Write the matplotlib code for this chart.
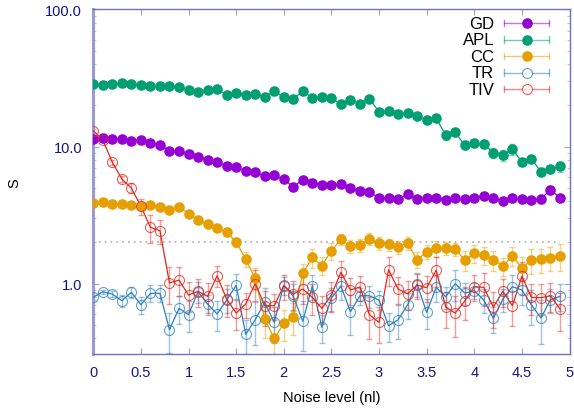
import numpy as np
import matplotlib
matplotlib.use("Agg")
import matplotlib.pyplot as plt
from matplotlib.ticker import FixedLocator, FuncFormatter, LogLocator, NullFormatter

plt.rcParams['font.family'] = ['Liberation Sans', 'DejaVu Sans']

noise = [round(0.1 * i, 1) for i in range(50)]

gd = [11.34, 11.6, 11.34, 11.34, 11.02, 11.15, 10.55, 10.25, 9.32, 9.27,
      8.82, 8.34, 8.01, 7.67, 7.24, 7.09, 6.63, 6.51, 6.06, 6.16,
      5.76, 5.09, 5.69, 5.39, 5.24, 5.24, 5.32, 4.98, 4.71, 4.65,
      4.23, 4.23, 4.14, 4.48, 4.12, 4.19, 4.23, 4.05, 4.23, 4.12,
      4.19, 4.33, 4.23, 4.00, 4.19, 4.16, 4.07, 4.16, 4.84, 4.23]
gd_err = [0.15] * 48 + [0.35, 0.15]

apl = [28.4, 28.1, 28.4, 29.1, 28.6, 28.2, 27.6, 27.6, 27.6, 27.1,
       26.0, 25.1, 25.8, 26.3, 23.8, 24.6, 23.8, 24.2, 22.9, 25.4,
       22.9, 22.3, 25.3, 22.7, 22.9, 22.6, 20.3, 22.0, 20.6, 22.3,
       17.9, 18.2, 17.3, 17.5, 16.7, 15.7, 16.1, 12.1, 12.7, 10.2,
       10.6, 10.4, 9.0, 8.7, 9.6, 7.7, 8.1, 6.55, 6.85, 7.17]
apl_err = [0.3] * 30 + [0.5, 0.5, 0.5, 0.5, 0.5, 0.5, 0.6, 0.9, 0.8, 0.6,
                        0.6, 0.6, 0.7, 0.8, 0.9, 0.4, 0.4, 0.4, 0.4, 0.6]

cc = [3.89, 3.91, 3.82, 3.79, 3.74, 3.70, 3.72, 3.62, 3.42, 3.64,
      3.23, 2.92, 2.73, 2.54, 2.38, 2.01, 1.51, 1.09, 0.551, 0.398,
      0.512, 0.569, 1.19, 1.55, 1.35, 1.74, 2.10, 1.87, 1.91, 2.12,
      1.97, 1.93, 1.85, 1.97, 1.49, 1.70, 1.81, 1.81, 1.79, 1.48,
      1.66, 1.61, 1.49, 1.34, 1.59, 1.30, 1.48, 1.50, 1.54, 1.58]
cc_err = [0.05, 0.05, 0.05, 0.05, 0.05, 0.05, 0.06, 0.08, 0.1, 0.1,
          0.1, 0.12, 0.1, 0.12, 0.15, 0.15, 0.2, 0.2, 0.15, 0.15,
          0.13, 0.15, 0.2, 0.25, 0.2, 0.25, 0.2, 0.2, 0.2, 0.2,
          0.2, 0.2, 0.2, 0.2, 0.2, 0.2, 0.25, 0.2, 0.2, 0.25,
          0.25, 0.25, 0.25, 0.2, 0.25, 0.25, 0.3, 0.3, 0.3, 0.35]

tr = [0.793, 0.871, 0.838, 0.749, 0.863, 0.700, 0.848, 0.848, 0.46, 0.659,
      0.592, 0.871, 0.709, 0.599, 0.758, 0.970, 0.426, 0.544, 0.729, 0.521,
      0.975, 0.806, 0.530, 0.964, 0.479, 0.784, 0.959, 0.623, 0.815, 0.815,
      0.758, 0.492, 0.544, 0.700, 0.992, 0.616, 0.938, 0.801, 1.00, 0.852,
      0.886, 0.758, 0.557, 0.770, 0.948, 0.897, 0.700, 0.560, 0.762, 0.806]
tr_err = [0.03, 0.03, 0.04, 0.08, 0.08, 0.1, 0.12, 0.12, 0.15, 0.15,
          0.15, 0.15, 0.12, 0.15, 0.15, 0.2, 0.12, 0.19, 0.2, 0.15,
          0.15, 0.18, 0.21, 0.2, 0.11, 0.15, 0.2, 0.2, 0.12, 0.15,
          0.12, 0.12, 0.15, 0.15, 0.2, 0.15, 0.2, 0.15, 0.25, 0.15,
          0.12, 0.15, 0.12, 0.15, 0.2, 0.2, 0.2, 0.2, 0.15, 0.18]

tiv = [13.04, 11.15, 7.67, 5.79, 4.98, 3.66, 2.57, 2.43, 1.01, 1.06,
       0.824, 0.877, 0.806, 1.14, 0.770, 0.609, 0.709, 1.00, 0.689, 0.689,
       0.964, 0.838, 0.912, 0.793, 0.659, 0.824, 1.21, 0.897, 0.943, 0.592,
       0.521, 1.26, 0.912, 0.842, 0.975, 0.932, 1.25, 0.674, 0.609, 0.745,
       0.948, 0.938, 0.674, 0.877, 0.689, 1.13, 0.793, 0.788, 0.815, 0.652]
tiv_err = [0.3, 0.3, 0.3, 0.3, 0.4, 0.5, 0.6, 0.5, 0.3, 0.25,
           0.2, 0.2, 0.2, 0.2, 0.2, 0.15, 0.15, 0.25, 0.2, 0.15,
           0.2, 0.2, 0.2, 0.2, 0.15, 0.2, 0.25, 0.2, 0.2, 0.2,
           0.15, 0.3, 0.2, 0.2, 0.2, 0.2, 0.3, 0.2, 0.2, 0.2,
           0.2, 0.25, 0.2, 0.2, 0.2, 0.3, 0.2, 0.2, 0.2, 0.2]

labels = ["GD", "APL", "CC", "TR", "TIV"]
colors = ["#9400D3", "#009E73", "#E69F00", "#2a80c0", "#E5261A"]
filled = [True, True, True, False, False]
series = [(gd, gd_err), (apl, apl_err), (cc, cc_err), (tr, tr_err), (tiv, tiv_err)]

ref_level = 2.0

fig = plt.figure(figsize=(5.74, 4.10), dpi=100)
ax = fig.add_axes([0.1625, 0.1341, 0.8297, 0.8403])

ax.hlines(ref_level, noise[0], noise[-1], colors="#aaaaaa", linestyles=(0, (1, 2.5)),
          linewidth=1.2, zorder=1)

for (vals, errs), c, f in zip(series, colors, filled):
    ax.errorbar(noise, vals, yerr=errs, fmt="none", ecolor=c, alpha=0.45,
                elinewidth=1.0, capsize=2.4, capthick=1.0, zorder=2)
    ax.plot(noise, vals, color=c, lw=0.9, zorder=3)
    if f:
        ax.plot(noise, vals, ls="none", marker="o", ms=6.6, mfc=c, mec=c, zorder=4)
    else:
        ax.plot(noise, vals, ls="none", marker="o", ms=7.2, mfc="none", mec=c,
                mew=0.8, alpha=0.75, zorder=4)

ax.set_yscale("log")
ax.set_ylim(0.306, 100)
ax.set_xlim(0, 5)

ax.xaxis.set_major_locator(FixedLocator([0, 0.5, 1, 1.5, 2, 2.5, 3, 3.5, 4, 4.5, 5]))
ax.xaxis.set_major_formatter(FuncFormatter(lambda v, p: f"{v:g}"))
ax.yaxis.set_major_locator(FixedLocator([1, 10, 100]))
ax.yaxis.set_major_formatter(FuncFormatter(lambda v, p: f"{v:.1f}"))
ax.yaxis.set_minor_locator(LogLocator(base=10, subs=np.arange(2, 10)))
ax.yaxis.set_minor_formatter(NullFormatter())

frame_col = "#7070c0"
tick_label_col = "#14148a"
for s in ["top", "right", "bottom"]:
    ax.spines[s].set_color(frame_col)
    ax.spines[s].set_linewidth(1.0)
ax.spines["left"].set_color("#9a9ad6")
ax.spines["left"].set_linewidth(2.2)

ax.tick_params(axis="both", which="major", direction="in", top=True, right=True,
               length=4, width=0.8, color="#a0a0d0", labelcolor=tick_label_col,
               labelsize=10.5, pad=8)
ax.tick_params(axis="y", which="minor", direction="in", left=True, right=True,
               length=2.2, width=0.6, color="#b0b0d8")
ax.tick_params(axis="x", which="minor", bottom=False, top=False)

ax.set_xlabel("Noise level (nl)", fontsize=10.5, color="black", labelpad=8)
ax.set_ylabel("S", fontsize=10.5, color="black", labelpad=17)

# gnuplot-style key in upper right
tx, x0, x1, xm = 0.8415, 0.8625, 0.9570, 0.9104
y0, dy = 0.9608, 0.0479
for i, (lab, c, f) in enumerate(zip(labels, colors, filled)):
    yy = y0 - i * dy
    ax.text(tx, yy, lab, transform=ax.transAxes, ha="right", va="center",
            fontsize=12, color="black")
    ax.plot([x0, x1], [yy, yy], transform=ax.transAxes, color=c, alpha=0.55,
            lw=1.0, clip_on=False, zorder=5)
    for xe in (x0, x1):
        ax.plot([xe, xe], [yy - 0.009, yy + 0.009], transform=ax.transAxes,
                color=c, alpha=0.55, lw=1.0, clip_on=False, zorder=5)
    if f:
        ax.plot([xm], [yy], transform=ax.transAxes, marker="o", ms=6.6, mfc=c,
                mec=c, ls="none", clip_on=False, zorder=6)
    else:
        ax.plot([xm], [yy], transform=ax.transAxes, marker="o", ms=7.2, mfc="white",
                mec=c, mew=0.8, alpha=0.75, ls="none", clip_on=False, zorder=6)

fig.savefig("out.png", dpi=100)
